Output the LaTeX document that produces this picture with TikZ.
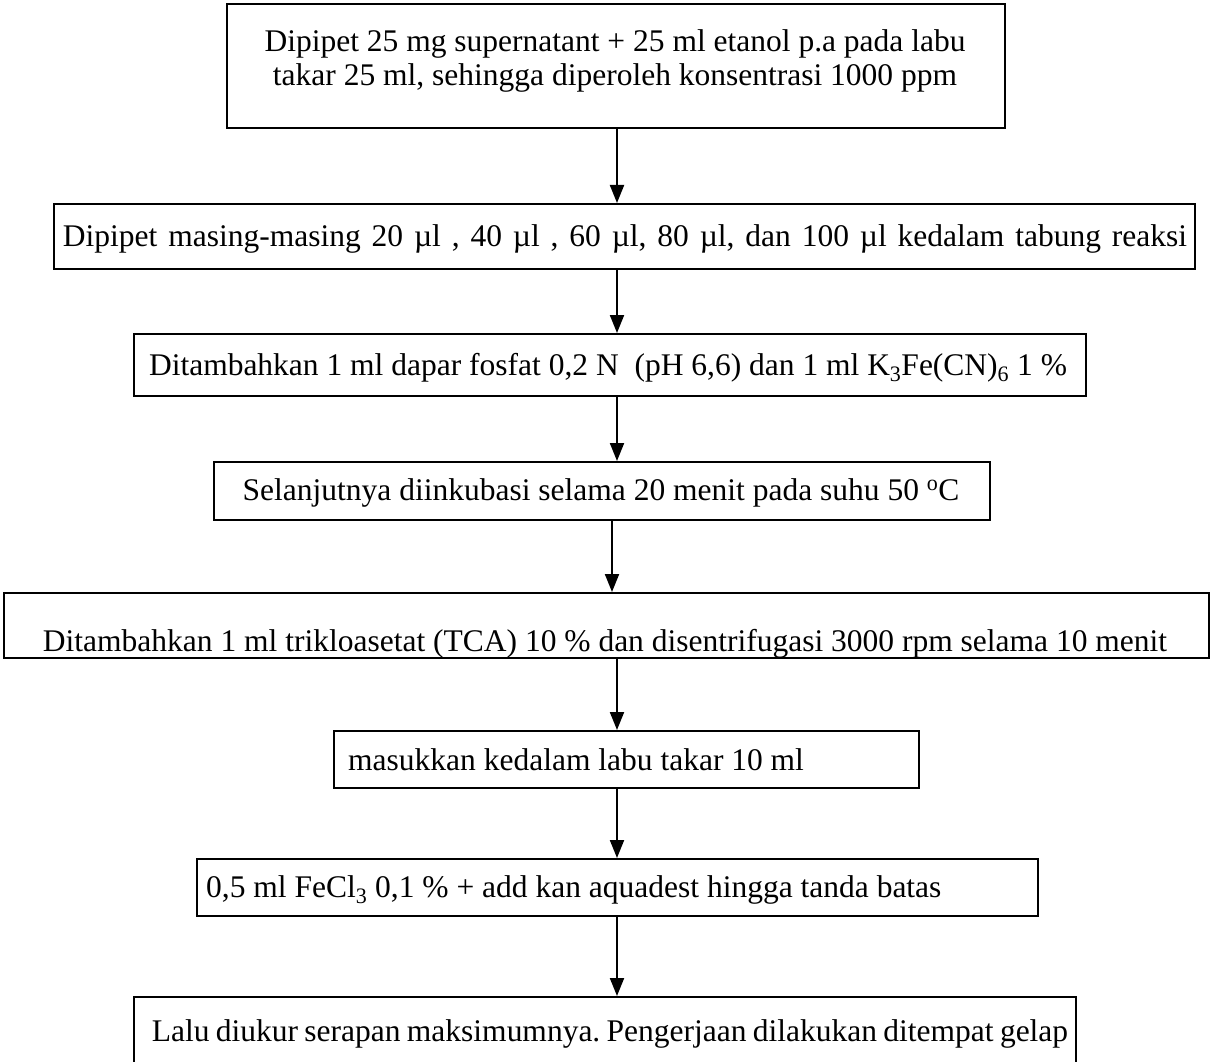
\documentclass[tikz,border=0pt]{standalone}
\usepackage{fontspec}
\setmainfont{Liberation Serif}
\usetikzlibrary{arrows.meta}
\frenchspacing
\begin{document}
\begin{tikzpicture}[x=1pt,y=-1pt,
  box/.style={draw, line width=1.6pt, rectangle, anchor=north west, inner sep=0pt},
  txt/.style={inner sep=0pt, font=\fontsize{31.5}{36}\selectfont},
  arr/.style={line width=2pt, -{Triangle[length=18pt,width=14pt]}}]
\useasboundingbox (0,0) rectangle (1211,1062);
\clip (0,0) rectangle (1211,1062);
\fill[white] (0,0) rectangle (1211,1062);
% boxes
\node[box, minimum width=778pt, minimum height=124pt] (b1) at (226,3) {};
\node[box, minimum width=1141pt, minimum height=65pt] (b2) at (53,203) {};
\node[box, minimum width=952pt, minimum height=62pt] (b3) at (133,333) {};
\node[box, minimum width=776pt, minimum height=58pt] (b4) at (213,461) {};
\node[box, minimum width=1205pt, minimum height=65pt] (b5) at (3,592) {};
\node[box, minimum width=585pt, minimum height=57pt] (b6) at (333,730) {};
\node[box, minimum width=841pt, minimum height=57pt] (b7) at (196,858) {};
\node[box, minimum width=942pt, minimum height=90pt] (b8) at (133,996) {};
% texts
\node[txt, anchor=base] (t1a) at (615,52) {Dipipet 25 mg supernatant + 25 ml etanol p.a pada labu};
\node[txt, anchor=base] (t1b) at (615,86) {takar 25 ml, sehingga diperoleh konsentrasi 1000 ppm};
\node[txt, anchor=base] (t2) at (625,246) {\spaceskip=1.38\fontdimen2\font Dipipet masing-masing 20 µl , 40 µl , 60 µl, 80 µl, dan 100 µl kedalam tabung reaksi};
\node[txt, anchor=base] (t3) at (608,375) {Ditambahkan 1 ml dapar fosfat 0,2 N\ \ (pH 6,6) dan 1 ml K\textsubscript{3}Fe(CN)\textsubscript{6} 1 \%};
\node[txt, anchor=base] (t4) at (601,500) {Selanjutnya diinkubasi selama 20 menit pada suhu 50 \textsuperscript{o}C};
\node[txt, anchor=base] (t5) at (605,651) {Ditambahkan 1 ml trikloasetat (TCA) 10 \% dan disentrifugasi 3000 rpm selama 10 menit};
\node[txt, anchor=base west] (t6) at (348,770) {masukkan kedalam labu takar 10 ml};
\node[txt, anchor=base west] (t7) at (206,897) {0,5 ml FeCl\textsubscript{3} 0,1 \% + add kan aquadest hingga tanda batas};
\node[txt, anchor=base] (t8) at (610,1041) {\spaceskip=0.8\fontdimen2\font Lalu diukur serapan maksimumnya. Pengerjaan dilakukan ditempat gelap};
% arrows
\draw[arr] (b1.south -| 617,0) -- (b2.north -| 617,0);
\draw[arr] (b2.south -| 617,0) -- (b3.north -| 617,0);
\draw[arr] (b3.south -| 617,0) -- (b4.north -| 617,0);
\draw[arr] (b4.south -| 612,0) -- (b5.north -| 612,0);
\draw[arr] (b5.south -| 617,0) -- (b6.north -| 617,0);
\draw[arr] (b6.south -| 617,0) -- (b7.north -| 617,0);
\draw[arr] (b7.south -| 617,0) -- (b8.north -| 617,0);
\end{tikzpicture}
\end{document}
